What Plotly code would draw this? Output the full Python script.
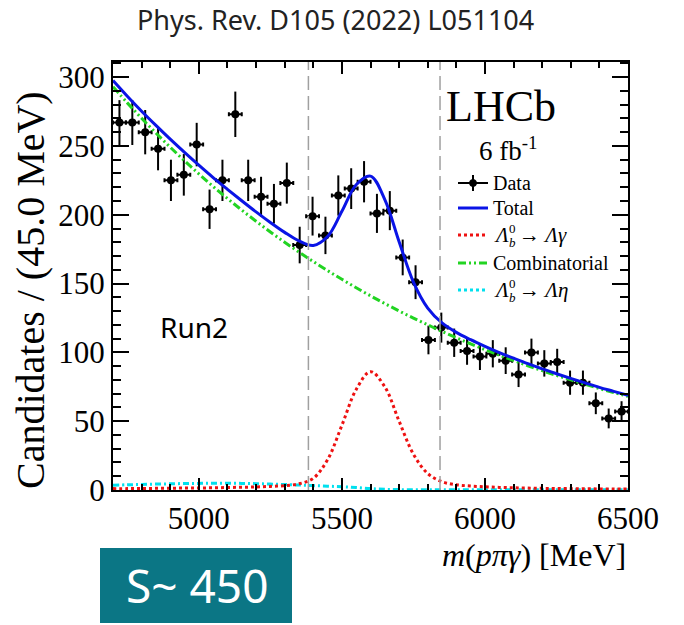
import plotly.graph_objects as go

# ---- measured spectrum: 40 bins of 45 MeV between 4700 and 6500 MeV ----
bin_centres = [4722.5, 4767.5, 4812.5, 4857.5, 4902.5, 4947.5, 4992.5, 5037.5,
               5082.5, 5127.5, 5172.5, 5217.5, 5262.5, 5307.5, 5352.5, 5397.5,
               5442.5, 5487.5, 5532.5, 5577.5, 5622.5, 5667.5, 5712.5, 5757.5,
               5802.5, 5847.5, 5892.5, 5937.5, 5982.5, 6027.5, 6072.5, 6117.5,
               6162.5, 6207.5, 6252.5, 6297.5, 6342.5, 6387.5, 6432.5, 6477.5]
counts = [267, 267, 260, 248, 225, 229, 251, 204, 225, 273, 225, 213, 208, 223,
          178, 199, 185, 214, 219, 224, 201, 203, 169, 151, 109, 118, 107, 101,
          97, 99, 94, 84, 100, 92, 93, 78, 78, 63, 52, 57]
count_errors = [16.3, 16.3, 16.1, 15.7, 15.0, 15.1, 15.8, 14.3, 15.0, 16.5, 15.0,
                14.6, 14.4, 14.9, 13.3, 14.1, 13.6, 14.6, 14.8, 15.0, 14.2, 14.2,
                13.0, 12.3, 10.4, 10.9, 10.3, 10.0, 9.8, 9.9, 9.7, 9.2, 10.0, 9.6,
                9.6, 8.8, 8.8, 7.9, 7.2, 7.5]
half_bin = 22.5

# ---- fit components sampled every 50 MeV ----
curve_mass = list(range(4700, 6501, 50))
signal_lambda_gamma = [1.0, 1.0, 1.1, 1.2, 1.3, 1.4, 1.5, 1.6, 1.8, 2.0, 2.2, 2.6,
                       3.2, 4.5, 8.5, 22, 47, 73, 86, 75, 50, 26, 12, 6.0, 3.8,
                       2.9, 2.3, 1.9, 1.6, 1.4, 1.2, 1.1, 1.0, 0.9, 0.8, 0.8, 0.7]
combinatorial = [293.0, 281.3, 270.1, 259.4, 249.1, 239.2, 229.7, 220.5, 211.8,
                 203.4, 195.3, 187.5, 180.0, 172.9, 166.0, 159.4, 153.1, 147.0,
                 141.1, 135.5, 130.1, 124.9, 120.0, 115.2, 110.6, 106.2, 102.0,
                 97.9, 94.1, 90.3, 86.7, 83.3, 80.0, 76.8, 73.7, 70.8, 68.0]
lambda_eta = [3.5, 3.8, 4.0, 4.3, 4.5, 4.7, 4.8, 4.9, 4.9, 4.8, 4.6, 4.3, 4.0,
              3.6, 3.2, 2.8, 2.4, 1.8, 1.0, 0.5, 0.3, 0.2, 0.2, 0.2, 0.1, 0.1,
              0.1, 0.1, 0.1, 0.1, 0.1, 0.1, 0.1, 0.1, 0.1, 0.1, 0.1]
total_fit = [c + s + e for c, s, e in zip(combinatorial, signal_lambda_gamma, lambda_eta)]

signal_window = [5383, 5843]
x_ticks = [5000, 5500, 6000, 6500]

# ---- page geometry (pixels) ----
FIG_W, FIG_H = 684, 625
PL, PR, PT, PB = 113, 628, 62, 490
SERIF = "Liberation Serif, Times New Roman, serif"
SANS = "Noto Sans"


def px(x):
    return (x - PL) / (PR - PL)


def py(y):
    return (PB - y) / (PB - PT)


fig = go.Figure()

fig.add_trace(go.Scatter(
    x=bin_centres, y=counts, mode="markers",
    marker=dict(color="black", size=8),
    error_x=dict(type="constant", value=half_bin, color="black", thickness=2, width=2),
    error_y=dict(type="data", array=count_errors, color="black", thickness=2, width=0),
    showlegend=False, hoverinfo="skip"))

fig.add_trace(go.Scatter(
    x=curve_mass, y=lambda_eta, mode="lines", line_shape="spline",
    line=dict(color="#00e0ee", width=3, dash="6px,3px,2px,3px"),
    showlegend=False, hoverinfo="skip"))
fig.add_trace(go.Scatter(
    x=curve_mass, y=combinatorial, mode="lines", line_shape="spline",
    line=dict(color="#22d422", width=3, dash="8px,3px,2px,3px,2px,3px"),
    showlegend=False, hoverinfo="skip"))
fig.add_trace(go.Scatter(
    x=curve_mass, y=signal_lambda_gamma, mode="lines", line_shape="spline",
    line=dict(color="#ee1111", width=3, dash="3px,3px"),
    showlegend=False, hoverinfo="skip"))
fig.add_trace(go.Scatter(
    x=curve_mass, y=total_fit, mode="lines", line_shape="spline",
    line=dict(color="#0a14e6", width=3),
    showlegend=False, hoverinfo="skip"))

shapes = []
for xv in signal_window:
    shapes.append(dict(type="line", xref="x", yref="paper", x0=xv, x1=xv, y0=0, y1=1,
                       line=dict(color="#a0a0a0", width=1.5, dash="14px,6px")))

annotations = []


def text(x, y, s, size, family=SERIF, color="black", xanchor="center", angle=0):
    annotations.append(dict(xref="paper", yref="paper", x=px(x), y=py(y), text=s,
                            showarrow=False, xanchor=xanchor, yanchor="middle",
                            textangle=angle,
                            font=dict(family=family, size=size, color=color)))


# legend block
leg_rows = [183, 208, 235, 263, 290]
sx0, sx1 = 458, 488
smid = (sx0 + sx1) / 2
shapes.append(dict(type="line", xref="paper", yref="paper", x0=px(sx0), x1=px(sx1),
                   y0=py(leg_rows[0]), y1=py(leg_rows[0]), line=dict(color="black", width=2)))
shapes.append(dict(type="line", xref="paper", yref="paper", x0=px(smid), x1=px(smid),
                   y0=py(leg_rows[0] - 8), y1=py(leg_rows[0] + 8), line=dict(color="black", width=2)))
shapes.append(dict(type="circle", xref="paper", yref="paper", x0=px(smid - 3.5), x1=px(smid + 3.5),
                   y0=py(leg_rows[0] - 3.5), y1=py(leg_rows[0] + 3.5),
                   fillcolor="black", line=dict(color="black", width=1)))
legend_styles = [("#0a14e6", "solid"), ("#ee1111", "3px,3px"),
                 ("#22d422", "8px,3px,2px,3px,2px,3px"), ("#00e0ee", "3px,3px")]
for row, (col, dash) in zip(leg_rows[1:], legend_styles):
    shapes.append(dict(type="line", xref="paper", yref="paper", x0=px(sx0), x1=px(sx1),
                       y0=py(row), y1=py(row), line=dict(color=col, width=3, dash=dash)))

text(491, leg_rows[0], "Data", 20, xanchor="left")
text(491, leg_rows[1], "Total", 20, xanchor="left")
text(491, leg_rows[3], "Combinatorial", 20, xanchor="left")
for row, final in [(leg_rows[2], "<i>Λγ</i>"), (leg_rows[4], "<i>Λη</i>")]:
    text(492, row, "<i>Λ</i>", 21, xanchor="left")
    text(507, row - 7, "0", 13, xanchor="left")
    text(507, row + 7, "<i>b</i>", 13, xanchor="left")
    text(517, row, "→ " + final, 21, xanchor="left")

text(501, 106, "LHCb", 44)
text(508, 149, "6 fb<sup>-1</sup>", 27)
text(194, 327, "Run2", 28, family=SANS)
text(335, 20, "Phys. Rev. D105 (2022) L051104", 27, family=SANS, color="#222222")
text(628, 555, "<i>m</i>(<i>pπγ</i>) [MeV]", 32, xanchor="right")
text(30, 290, "Candidates / (45.0 MeV)", 40, angle=-90)

# signal-yield badge
shapes.append(dict(type="rect", xref="paper", yref="paper", x0=px(100), x1=px(292),
                   y0=py(548), y1=py(623), fillcolor="#0b7685", line=dict(width=0)))
text(197, 585, "S~ 450", 46, family=SANS, color="white")

axis_common = dict(showgrid=False, zeroline=False, showline=True, linecolor="black",
                   linewidth=2, mirror="allticks", ticks="inside", tickcolor="black",
                   tickwidth=2, tickfont=dict(family=SERIF, size=31, color="black"))

fig.update_layout(
    width=FIG_W, height=FIG_H,
    margin=dict(l=PL, r=FIG_W - PR, t=PT, b=FIG_H - PB),
    paper_bgcolor="white", plot_bgcolor="white",
    showlegend=False,
    xaxis=dict(range=[4700, 6500], tickvals=x_ticks, ticklen=12,
               minor=dict(dtick=100, tick0=4700, ticklen=6, tickwidth=1.5,
                          ticks="inside", tickcolor="black", showgrid=False),
               **axis_common),
    yaxis=dict(range=[0, 311], dtick=50, ticklen=16,
               minor=dict(dtick=10, ticklen=8, tickwidth=1.5, ticks="inside",
                          tickcolor="black", showgrid=False),
               **axis_common),
    shapes=shapes, annotations=annotations,
)

fig.write_html("out.html")
